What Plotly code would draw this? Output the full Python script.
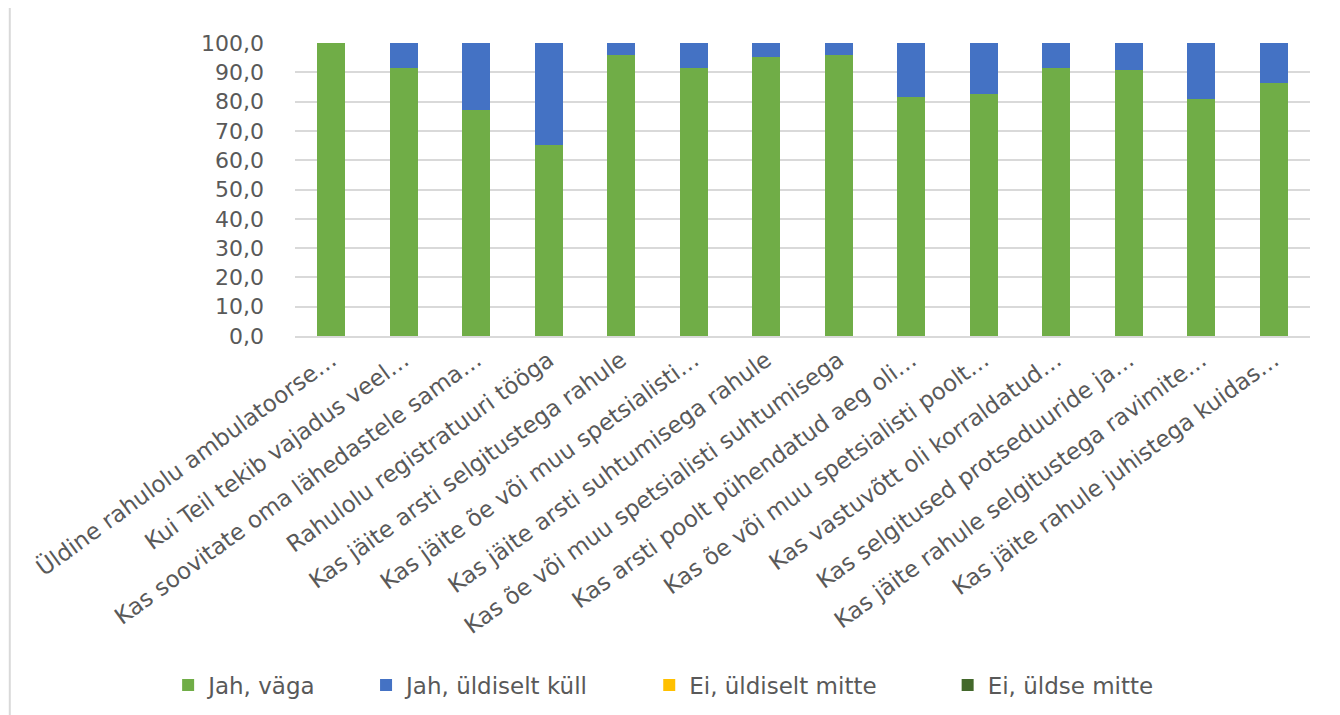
import plotly.graph_objects as go

categories = [
    "Üldine rahulolu ambulatoorse…",
    "Kui Teil tekib vajadus veel…",
    "Kas soovitate oma lähedastele sama…",
    "Rahulolu registratuuri tööga",
    "Kas jäite arsti selgitustega rahule",
    "Kas jäite õe või muu spetsialisti…",
    "Kas jäite arsti suhtumisega rahule",
    "Kas õe või muu spetsialisti suhtumisega",
    "Kas arsti poolt pühendatud aeg oli…",
    "Kas õe või muu spetsialisti poolt…",
    "Kas vastuvõtt oli korraldatud…",
    "Kas selgitused protseduuride ja…",
    "Kas jäite rahule selgitustega ravimite…",
    "Kas jäite rahule juhistega kuidas…",
]
jah_vaga = [100.0, 91.3, 77.3, 65.1, 95.8, 91.3, 95.3, 95.8, 81.6, 82.6, 91.3, 90.8, 80.8, 86.5]
jah_uldiselt = [0.0, 8.7, 22.7, 34.9, 4.2, 8.7, 4.7, 4.2, 18.4, 17.4, 8.7, 9.2, 19.2, 13.5]
ei_uldiselt = [0.0] * 14
ei_uldse = [0.0] * 14

series_names = ["Jah, väga", "Jah, üldiselt küll", "Ei, üldiselt mitte", "Ei, üldse mitte"]
series_values = [jah_vaga, jah_uldiselt, ei_uldiselt, ei_uldse]
series_colors = ["#70AD47", "#4472C4", "#FFC000", "#43682B"]
legend_ids = ["legend", "legend2", "legend3", "legend4"]
legend_x = [-0.125, 0.070, 0.349, 0.643]

fig = go.Figure()
for name, vals, color, lid in zip(series_names, series_values, series_colors, legend_ids):
    fig.add_trace(go.Bar(x=categories, y=vals, name=name, marker_color=color,
                         marker_line_width=0, legend=lid))

font_family = "DejaVu Sans"
txt = "#595959"
legend_common = dict(orientation="h", xanchor="left", y=-1.191, yanchor="middle",
                     font=dict(size=23, color=txt), bgcolor="rgba(0,0,0,0)")
layout_legends = {}
for lid, lx in zip(legend_ids, legend_x):
    layout_legends[lid] = dict(legend_common, x=lx)

fig.update_layout(
    barmode="stack",
    bargap=0.614,
    width=1340, height=715,
    margin=dict(l=287, r=38, t=35, b=387),
    paper_bgcolor="white", plot_bgcolor="white",
    separators=", ",
    font=dict(family=font_family, size=18, color=txt),
    showlegend=True,
    xaxis=dict(tickangle=-36, tickfont=dict(size=23, color=txt),
               showline=True, linecolor="#d9d9d9", linewidth=1.5, ticks=""),
    yaxis=dict(range=[0, 100], dtick=10, tickformat=".1f",
               tickfont=dict(size=22, color=txt),
               showgrid=True, gridcolor="#d9d9d9", gridwidth=1.5,
               zeroline=False, ticks="", ticklabelstandoff=30),
    **layout_legends,
)
fig.add_shape(type="line", xref="paper", yref="paper",
              x0=-0.281, x1=-0.281, y0=-2.0, y1=1.2,
              line=dict(color="#d9d9d9", width=2))
fig.write_html("out.html")
